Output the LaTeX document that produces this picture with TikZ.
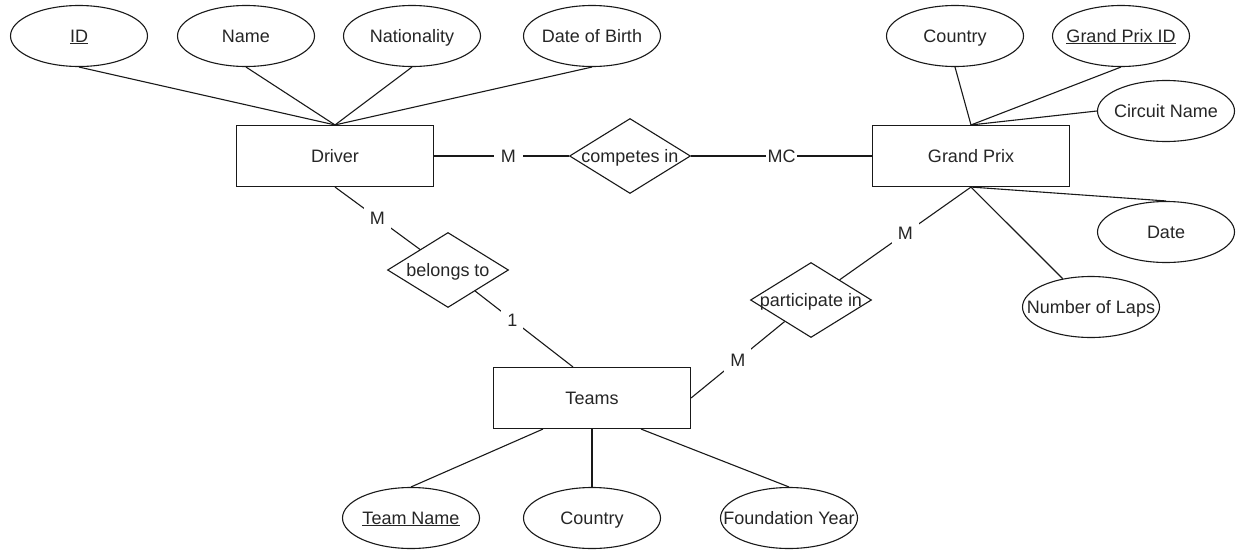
\documentclass[tikz,border=0pt]{standalone}
\usepackage{fontspec}
\setmainfont{Liberation Sans}
\usetikzlibrary{shapes.geometric}
\newcommand{\zw}[1]{\makebox[0pt]{#1}}
\begin{document}
\begin{tikzpicture}[x=1pt,y=-1pt,line width=1.1pt,
  every node/.style={font=\fontsize{18}{21}\selectfont, text=black!85, text height=16pt, text depth=4pt},
  ent/.style={draw=black!90, rectangle, minimum width=197pt, minimum height=61pt, inner sep=0pt},
  attr/.style={draw=black!90, ellipse, minimum width=137pt, minimum height=61pt, inner sep=0pt},
  rel/.style={draw=black!90, diamond, minimum width=121pt, minimum height=75pt, inner sep=0pt},
  card/.style={fill=white, inner sep=3pt, text height=13pt, text depth=0pt},
  conn/.style={draw=black!90}]
\fill[white] (0,0) rectangle (1237,549);
\useasboundingbox (0,0) rectangle (1237,549);
% Driver side
\node[attr] (ID) at (79,36) {\zw{\underline{ID}}};
\node[attr] (Name) at (246,36) {\zw{Name}};
\node[attr] (Nat) at (412,36) {\zw{Nationality}};
\node[attr] (DOB) at (592,36) {\zw{Date of Birth}};
\node[ent] (Driver) at (335,156) {Driver};
\node[rel] (CI) at (630,156) {\zw{competes in}};
\node[ent] (GP) at (971,156) {Grand Prix};
% Grand Prix attributes
\node[attr] (GPC) at (955,36) {\zw{Country}};
\node[attr] (GPID) at (1121,36) {\zw{\underline{Grand Prix ID}}};
\node[attr] (CN) at (1166,111) {\zw{Circuit Name}};
\node[attr] (Date) at (1166,232) {\zw{Date}};
\node[attr] (NoL) at (1091,307) {\zw{Number of Laps}};
% relationships
\node[rel] (BT) at (448,270) {\zw{belongs to}};
\node[rel] (PI) at (811,300) {\zw{participate in}};
\node[ent] (Teams) at (592,398) {Teams};
% Teams attributes
\node[attr] (TN) at (411,518) {\zw{\underline{Team Name}}};
\node[attr] (TC) at (592,518) {\zw{Country}};
\node[attr] (FY) at (789,518) {\zw{Foundation Year}};
% connectors
\draw[conn] (ID.south) -- (Driver.north);
\draw[conn] (Name.south) -- (Driver.north);
\draw[conn] (Nat.south) -- (Driver.north);
\draw[conn] (DOB.south) -- (Driver.north);
\draw[conn] (Driver) -- node[card,pos=0.55,inner xsep=7pt]{M} (CI);
\draw[conn] (CI) -- node[card,inner xsep=1.5pt]{MC} (GP);
\draw[conn] (GPC.south) -- (GP.north);
\draw[conn] (GPID.south) -- (GP.north);
\draw[conn] (CN.west) -- (GP.north);
\draw[conn] (GP.south) -- (Date.north);
\draw[conn] (GP.south) -- (NoL);
\draw[conn] (GP.south) -- node[card,inner sep=6pt]{M} (PI);
\draw[conn] (Teams.east) -- node[card,inner sep=6pt]{M} (PI);
\draw[conn] (Driver.south) -- node[card,inner sep=6pt]{M} (BT);
\draw[conn] (BT) -- node[card,pos=0.38,inner sep=6pt]{1} ([xshift=-19pt]Teams.north);
\draw[conn] ([xshift=-49pt]Teams.south) -- (TN.north);
\draw[conn] (Teams.south) -- (TC.north);
\draw[conn] ([xshift=49pt]Teams.south) -- (FY.north);
\end{tikzpicture}
\end{document}
